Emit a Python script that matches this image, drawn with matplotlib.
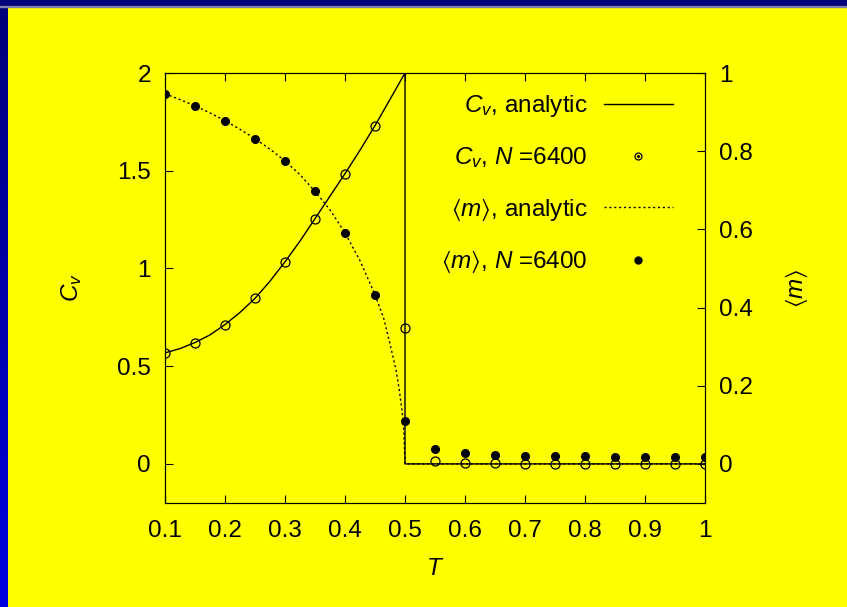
import numpy as np
import matplotlib
matplotlib.use('Agg')
import matplotlib.pyplot as plt
from matplotlib.patches import Rectangle
from matplotlib.lines import Line2D

plt.rcParams['font.family'] = ['Liberation Sans', 'DejaVu Sans']
plt.rcParams['mathtext.fontset'] = 'custom'
plt.rcParams['mathtext.rm'] = 'Liberation Sans'
plt.rcParams['mathtext.it'] = 'Liberation Sans:italic'
plt.rcParams['mathtext.fallback'] = 'stixsans'
plt.rcParams['font.size'] = 17.5

# analytic curves
t_cv_an = [0.1, 0.125, 0.15, 0.175, 0.2, 0.225, 0.25, 0.275, 0.3, 0.325,
           0.35, 0.375, 0.4, 0.425, 0.45, 0.475, 0.5, 0.5, 1.0]
cv_an = [0.568, 0.59, 0.621, 0.66, 0.713, 0.775, 0.847, 0.935, 1.034, 1.14,
         1.255, 1.37, 1.485, 1.605, 1.731, 1.865, 2.0, 0.0, 0.0]

t_m_an = [0.1, 0.125, 0.15, 0.175, 0.2, 0.225, 0.25, 0.275, 0.3, 0.325,
          0.35, 0.375, 0.4, 0.425, 0.45, 0.465, 0.475, 0.485, 0.49, 0.495,
          0.498, 0.5, 1.0]
m_an = [0.947, 0.932, 0.916, 0.898, 0.878, 0.856, 0.832, 0.805, 0.775, 0.74,
        0.697, 0.65, 0.591, 0.52, 0.433, 0.37, 0.307, 0.24, 0.194, 0.137,
        0.087, 0.0, 0.0]

# simulation, N = 6400
t_sim = [0.1, 0.15, 0.2, 0.25, 0.3, 0.35, 0.4, 0.45, 0.5, 0.55,
         0.6, 0.65, 0.7, 0.75, 0.8, 0.85, 0.9, 0.95, 1.0]
cv_sim = [0.568, 0.621, 0.713, 0.847, 1.034, 1.255, 1.485, 1.731, 0.694, 0.017,
          0.004, 0.003, 0.002, 0.002, 0.002, 0.002, 0.002, 0.002, 0.002]
m_sim = [0.947, 0.916, 0.878, 0.832, 0.775, 0.697, 0.591, 0.433, 0.11, 0.037,
         0.028, 0.024, 0.021, 0.02, 0.019, 0.018, 0.018, 0.018, 0.018]

fig = plt.figure(figsize=(8.47, 6.07), dpi=100, facecolor='#ffff00')

# blue frame at top and left
fig.patches.append(Rectangle((0, 1 - 6 / 607), 1, 6 / 607, transform=fig.transFigure,
                             color='#000078', zorder=0))
fig.patches.append(Rectangle((0, 1 - 7 / 607), 1, 1 / 607, transform=fig.transFigure,
                             color='#8080b0', zorder=0))
grad_ax = fig.add_axes([0, 0, 8 / 847, 1 - 6 / 607])
grad = np.linspace(0, 1, 256).reshape(-1, 1)
cmap = matplotlib.colors.LinearSegmentedColormap.from_list('b', ['#0000e0', '#000078'])
grad_ax.imshow(grad, aspect='auto', cmap=cmap, origin='lower')
grad_ax.axis('off')

ax = fig.add_axes([165 / 847, 104 / 607, 540 / 847, 430 / 607])
ax.set_facecolor('none')
ax2 = ax.twinx()

dotted = (0, (1.5, 2))
ax.plot(t_cv_an, cv_an, color='black', lw=1)
ax.plot(t_sim, cv_sim, 'o', mfc='none', mec='black', ms=6.5, mew=0.9)
ax2.plot(t_m_an, m_an, color='black', lw=1, ls=dotted)
ax2.plot(t_sim, m_sim, 'o', color='black', ms=5.5)

ax.set_xlim(0.1, 1)
ax.set_ylim(-0.2, 2)
ax2.set_ylim(-0.1, 1)
ax.set_xticks(np.arange(0.1, 1.01, 0.1))
ax.set_xticklabels(['0.1', '0.2', '0.3', '0.4', '0.5', '0.6', '0.7', '0.8', '0.9', '1'])
ax.set_yticks([0, 0.5, 1, 1.5, 2])
ax.set_yticklabels(['0', '0.5', '1', '1.5', '2'])
ax2.set_yticks([0, 0.2, 0.4, 0.6, 0.8, 1])
ax2.set_yticklabels(['0', '0.2', '0.4', '0.6', '0.8', '1'])

ax.tick_params(axis='x', direction='in', top=True, length=6, width=0.8, pad=12)
ax.tick_params(axis='y', direction='in', right=False, length=6, width=0.8, pad=10)
ax2.tick_params(axis='y', direction='in', length=6, width=0.8, pad=10)

ax.set_xlabel(r'$T$', labelpad=12)
ax.set_ylabel(r'$C_v$', labelpad=24)
ax2.set_ylabel(r'$\langle m\rangle$', labelpad=22, rotation=90)

cv_mark = (Line2D([], [], ls='none', marker='o', mfc='none', mec='black', ms=5, mew=0.9),
           Line2D([], [], ls='none', marker='o', color='black', ms=1.2))
handles = [Line2D([], [], color='black', lw=1),
           cv_mark,
           Line2D([], [], color='black', lw=1, ls=dotted),
           Line2D([], [], ls='none', marker='o', color='black', ms=5)]
labels = [r'$C_v$, analytic', r'$C_v$, $N$ =6400',
          r'$\langle m\rangle$, analytic', r'$\langle m\rangle$, $N$ =6400']
leg = ax2.legend(handles, labels, loc='upper right', bbox_to_anchor=(0.9585, 0.976),
                 frameon=False, markerfirst=False,
                 handlelength=2.85, handletextpad=0.65, labelspacing=1.08,
                 borderaxespad=0.0, fontsize=17.5)
for txt in leg.get_texts():
    txt.set_ha('right')

fig.savefig('out.png', dpi=100, facecolor=fig.get_facecolor())
